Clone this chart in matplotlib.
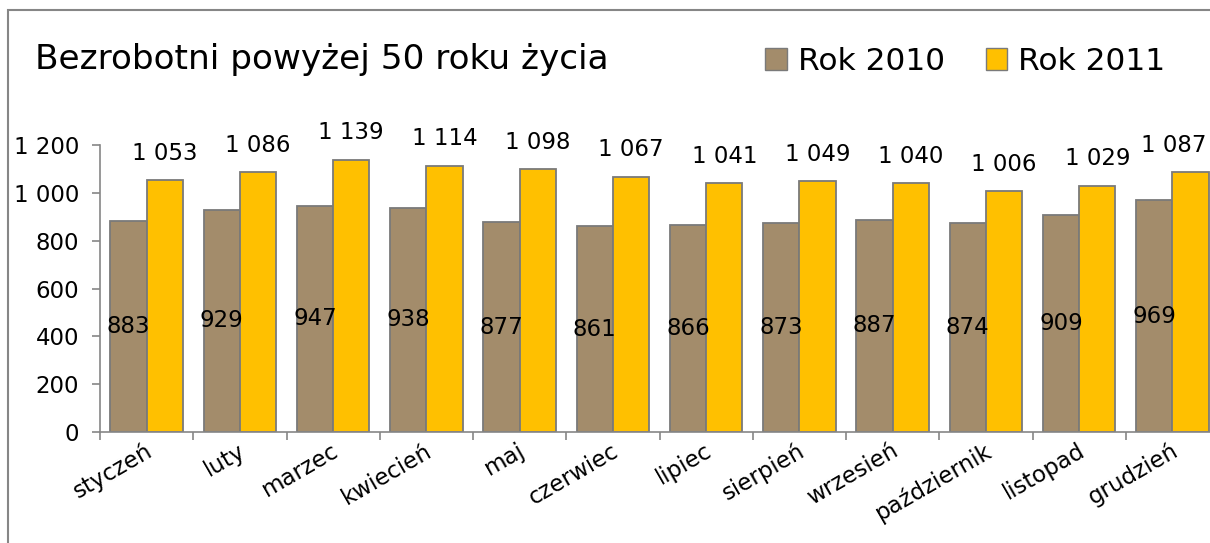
import matplotlib
matplotlib.use("Agg")
import matplotlib.pyplot as plt
from matplotlib.patches import Patch, Rectangle

months = ["styczeń", "luty", "marzec", "kwiecień", "maj", "czerwiec",
          "lipiec", "sierpień", "wrzesień", "październik", "listopad", "grudzień"]
rok_2010 = [883, 929, 947, 938, 877, 861, 866, 873, 887, 874, 909, 969]
rok_2011 = [1053, 1086, 1139, 1114, 1098, 1067, 1041, 1049, 1040, 1006, 1029, 1087]
y_ticks = [0, 200, 400, 600, 800, 1000, 1200]

C2010 = "#A38C6B"
C2011 = "#FFC000"
EDGE = "#7A7A7A"
AXC = "#868686"

plt.rcParams["font.family"] = ["DejaVu Sans"]


def fmt(v):
    return f"{v:,}".replace(",", " ")


W, H = 1210, 543
fig = plt.figure(figsize=(W / 100, H / 100), dpi=100)

# outer frame of the chart (cut off on right/bottom like the reference)
fig.patches.append(Rectangle((8 / W, -0.1), 1.2, 1 - 10 / H + 0.1,
                             transform=fig.transFigure, fill=False,
                             edgecolor=AXC, linewidth=1.5))

ax = fig.add_axes([100 / W, 111 / H, 1119 / W, 287 / H])

x = list(range(len(months)))
bw = 0.39
b1 = ax.bar([i - bw / 2 for i in x], rok_2010, width=bw, color=C2010,
            edgecolor=EDGE, linewidth=1.3, label="Rok 2010")
b2 = ax.bar([i + bw / 2 for i in x], rok_2011, width=bw, color=C2011,
            edgecolor=EDGE, linewidth=1.3, label="Rok 2011")

for b, v in zip(b1, rok_2010):
    ax.text(b.get_x() + b.get_width() / 2, v / 2, fmt(v), ha="center",
            va="center", fontsize=16.5)
for i, (b, v) in enumerate(zip(b2, rok_2011)):
    dx = -17 if i == len(rok_2011) - 1 else 0  # keep last label inside
    ax.annotate(fmt(v), (b.get_x() + b.get_width() / 2, v),
                xytext=(dx, 27), textcoords="offset pixels",
                ha="center", va="center", fontsize=16.5)

ax.set_xlim(-0.5, len(months) - 0.5)
ax.set_ylim(0, 1200)
ax.set_yticks(y_ticks, [fmt(t) for t in y_ticks], fontsize=16.5)
ax.set_xticks([i - 0.5 for i in x])
ax.set_xticklabels([])
ax.tick_params(axis="both", color=AXC, length=6, width=1.2)
ax.tick_params(axis="y", pad=9)

for i, m in enumerate(months):
    ax.annotate(m, (i, 0), xytext=(4, -17), textcoords="offset pixels",
                rotation=30, rotation_mode="anchor", ha="right", va="center",
                fontsize=16.5)

ax.spines[["top", "right"]].set_visible(False)
for s in ("left", "bottom"):
    ax.spines[s].set_color(AXC)
    ax.spines[s].set_linewidth(1.2)

fig.text(35 / W, 1 - 59 / H, "Bezrobotni powyżej 50 roku życia",
         fontsize=24.7, ha="left", va="center")

handles = [Patch(facecolor=C2010, edgecolor=EDGE), Patch(facecolor=C2011, edgecolor=EDGE)]
fig.legend(handles, ["Rok 2010", "Rok 2011"], loc="center left",
           bbox_to_anchor=(765 / W, 1 - 61 / H), ncol=2, frameon=False,
           fontsize=22.5, handlelength=0.7, handleheight=0.7,
           handletextpad=0.35, columnspacing=1.3, borderaxespad=0,
           borderpad=0)

fig.savefig("out.png", dpi=100)
